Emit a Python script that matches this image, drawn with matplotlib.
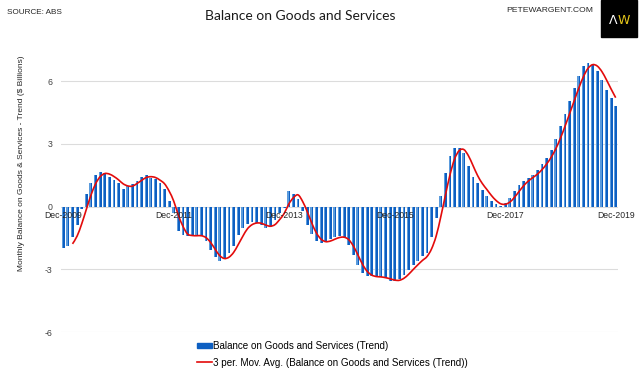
import numpy as np
import pandas as pd
import matplotlib
matplotlib.use("Agg")
from matplotlib import pyplot as plt
from matplotlib.path import Path
from matplotlib.patches import PathPatch, Rectangle
from matplotlib.lines import Line2D

## dados (leitura aproximada do grafico)
months = pd.date_range("2009-12-01", "2019-12-01", freq="MS")
balance = [
    -2.0, -1.88, -1.47, -0.88, -0.13, 0.6, 1.15, 1.5, 1.64, 1.6, 1.43, 1.29,
    1.12, 0.86, 0.99, 1.08, 1.24, 1.43, 1.5, 1.36, 1.32, 1.12, 0.83, 0.26,
    -0.32, -1.18, -1.34, -1.42, -1.39, -1.37, -1.42, -1.66, -2.06, -2.41, -2.58, -2.46,
    -2.22, -1.9, -1.34, -1.02, -0.83, -0.75, -0.78, -0.86, -1.02, -0.94, -0.62, -0.3,
    -0.05, 0.73, 0.6, 0.35, -0.22, -0.86, -1.31, -1.63, -1.74, -1.66, -1.55, -1.47,
    -1.42, -1.5, -1.82, -2.33, -2.78, -3.17, -3.33, -3.33, -3.38, -3.38, -3.44, -3.54,
    -3.57, -3.47, -3.25, -3.01, -2.78, -2.58, -2.38, -2.22, -1.47, -0.54, 0.53, 1.61,
    2.41, 2.81, 2.81, 2.57, 1.93, 1.4, 1.13, 0.81, 0.53, 0.26, 0.1, 0.05,
    0.18, 0.41, 0.73, 1.02, 1.24, 1.39, 1.53, 1.74, 2.04, 2.33, 2.73, 3.25,
    3.84, 4.45, 5.07, 5.68, 6.27, 6.71, 6.87, 6.79, 6.51, 6.08, 5.6, 5.2,
    4.83,
]
tick_labels = ["Dec-2009", "Dec-2011", "Dec-2013", "Dec-2015", "Dec-2017", "Dec-2019"]
y_ticks = [-6, -3, 0, 3, 6]

bar_label = "Balance on Goods and Services (Trend)"
ma_label = "3 per. Mov. Avg. (Balance on Goods and Services (Trend))"

x = np.arange(len(balance))
vals = np.array(balance)

# media movel de 3 periodos (como no excel)
ma = np.convolve(vals, np.ones(3) / 3, mode="valid")
ma_x = x[2:]

plt.rcParams["font.family"] = ["Liberation Sans", "DejaVu Sans"]

fig = plt.figure(figsize=(6.4, 3.79), dpi=100)
ax = fig.add_axes([0.0953, 0.124, 0.8703, 0.728])

dark = "#0d5fc2"
light = "#5b9bdc"
ax.bar(x, vals, width=0.62, color=dark, zorder=2, label=bar_label)
ax.bar(x - 0.31, vals, width=0.26, align="edge", color=light, zorder=2)

## linha suavizada (catmull-rom -> bezier)
pts = np.column_stack([ma_x, ma])
verts = [tuple(pts[0])]
codes = [Path.MOVETO]
n = len(pts)
for i in range(n - 1):
    p0 = pts[max(i - 1, 0)]
    p1 = pts[i]
    p2 = pts[i + 1]
    p3 = pts[min(i + 2, n - 1)]
    c1 = p1 + (p2 - p0) / 6.0
    c2 = p2 - (p3 - p1) / 6.0
    verts += [tuple(c1), tuple(c2), tuple(p2)]
    codes += [Path.CURVE4] * 3
ax.add_patch(PathPatch(Path(verts, codes), facecolor="none", edgecolor="#e30b0b",
                       lw=1.2, zorder=3))

ax.set_xlim(-0.5, len(balance) - 0.5)
ax.set_ylim(-6, 7.2)
ax.set_yticks(y_ticks)
ax.set_yticklabels([str(t) for t in y_ticks])
ax.set_xticks([])
ax.tick_params(axis="y", length=0, labelsize=6.3, pad=6, labelcolor="#404040")
ax.grid(axis="y", color="#dcdcdc", lw=0.8)
ax.set_axisbelow(True)
for s in ax.spines.values():
    s.set_visible(False)

# rotulos do eixo x logo abaixo do zero
for lab in tick_labels:
    pos = list(months.strftime("%b-%Y")).index(lab)
    ax.annotate(lab, (pos, 0), xytext=(0, -3.5), textcoords="offset points",
                ha="center", va="top", fontsize=6.2, color="#262626", zorder=4)

fig.text(22 / 640, 1 - 163 / 379, "Monthly Balance on Goods & Services - Trend ($ Billions)",
         rotation=90, ha="center", va="center", fontsize=6, color="#262626")

fig.text(300 / 640, 1 - 16 / 379, "Balance on Goods and Services", ha="center", va="center",
         fontsize=10, family=["Lato", "DejaVu Sans"], color="#1a1a1a")
fig.text(7 / 640, 1 - 12 / 379, "SOURCE: ABS", ha="left", va="center", fontsize=5.9, color="#262626")
fig.text(506 / 640, 1 - 10 / 379, "PETEWARGENT.COM", ha="left", va="center", fontsize=6.1,
         color="#262626")

# logo
fig.patches.append(Rectangle((601 / 640, 1 - 37 / 379), 36 / 640, 37 / 379,
                             transform=fig.transFigure, color="black", zorder=5))
fig.text(613 / 640, 1 - 20 / 379, "Λ", ha="center", va="center", fontsize=9, color="white",
         family=["DejaVu Sans"], zorder=6)
fig.text(624 / 640, 1 - 20 / 379, "W", ha="center", va="center", fontsize=9, color="#e8c91a",
         family=["DejaVu Sans"], zorder=6)

handles = [Rectangle((0, 0), 1, 1, color=dark),
           Line2D([0], [0], color="#e30b0b", lw=1.2)]
fig.legend(handles, [bar_label, ma_label], loc="upper left",
           bbox_to_anchor=(197 / 640, 1 - 341 / 379), frameon=False, fontsize=7.1,
           borderpad=0, borderaxespad=0, handlelength=1.5, handleheight=0.55,
           handletextpad=0.12, labelspacing=0.68)

fig.savefig("out.png", dpi=100)
